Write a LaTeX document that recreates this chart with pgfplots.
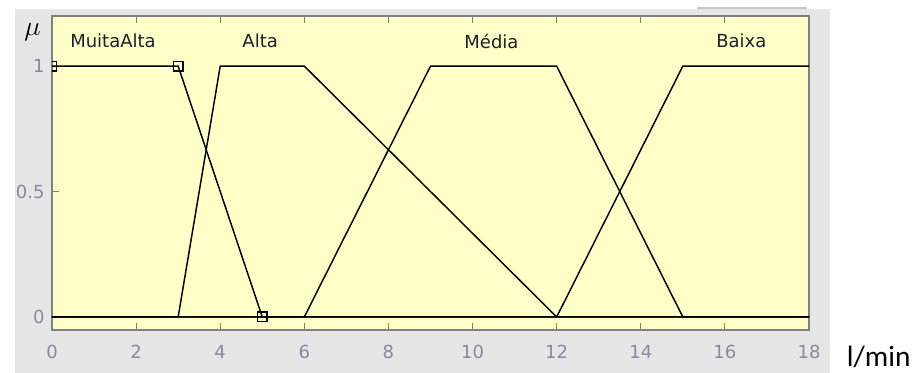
\documentclass[border=0pt]{standalone}
\usepackage{pgfplots}
\pgfplotsset{compat=1.18}
\usepackage{fontspec}
\setmainfont{DejaVu Sans}
\newfontfamily\calib{Carlito}
\definecolor{bgyellow}{RGB}{255,255,200}
\definecolor{outergray}{RGB}{230,230,230}
\definecolor{ticklab}{RGB}{135,138,160}
\definecolor{boxgray}{RGB}{128,128,128}
\definecolor{mflab}{RGB}{30,30,45}
\begin{document}
\begin{tikzpicture}
% picture frame (920 x 373 px), 1px = 0.75pt
\path (0pt,0pt) rectangle (690pt,279.75pt);
\fill[outergray] (11.25pt,0pt) rectangle (622.5pt,273pt);
\draw[color={rgb,255:red,200;green,200;blue,200}, line width=1.5pt] (522.75pt,273.75pt) -- (605.25pt,273.75pt);
\begin{axis}[
  at={(39pt,32.25pt)}, anchor=south west,
  scale only axis,
  width=567.75pt, height=235.5pt,
  xmin=0, xmax=18, ymin=-0.052, ymax=1.2,
  axis background/.style={fill=bgyellow},
  axis line style={boxgray, line width=0.8pt},
  xtick={0,2,...,18},
  ytick={0,0.5,1},
  yticklabels={0,0.5,1},
  xtick pos=both, ytick pos=left,
  tick align=inside,
  major tick length=5pt,
  tick style={boxgray, line width=0.7pt},
  ticklabel style={font=\fontsize{13.5}{15}\selectfont, text=ticklab},
  xticklabel style={yshift=-8pt},
  yticklabel style={xshift=-2pt},
  /pgf/number format/assume math mode=true,
  clip marker paths=true,
]
\addplot[black, line width=1.1pt] coordinates {(0,1) (3,1) (5,0) (18,0)};
\addplot[black, line width=1.1pt] coordinates {(0,0) (3,0) (4,1) (6,1) (12,0) (18,0)};
\addplot[black, line width=1.1pt] coordinates {(0,0) (6,0) (9,1) (12,1) (15,0) (18,0)};
\addplot[black, line width=1.1pt] coordinates {(0,0) (12,0) (15,1) (18,1)};
\addplot[only marks, mark=square, mark size=3.6pt, mark options={black, line width=1pt}] coordinates {(0,1) (3,1) (5,0)};
\node[text=mflab, font=\fontsize{13.5}{15}\selectfont] at (axis cs:1.45,1.10) {MuitaAlta};
\node[text=mflab, font=\fontsize{13.5}{15}\selectfont] at (axis cs:4.95,1.10) {Alta};
\node[text=mflab, font=\fontsize{13.5}{15}\selectfont] at (axis cs:10.45,1.10) {Média};
\node[text=mflab, font=\fontsize{13.5}{15}\selectfont] at (axis cs:16.39,1.10) {Baixa};
\end{axis}
\node[font=\fontsize{20}{22}\selectfont] at (24.4pt,255.75pt) {$\mu$};
\node[font=\calib\fontsize{22}{24}\selectfont] at (659pt,12pt) {l/min};
\end{tikzpicture}
\end{document}
